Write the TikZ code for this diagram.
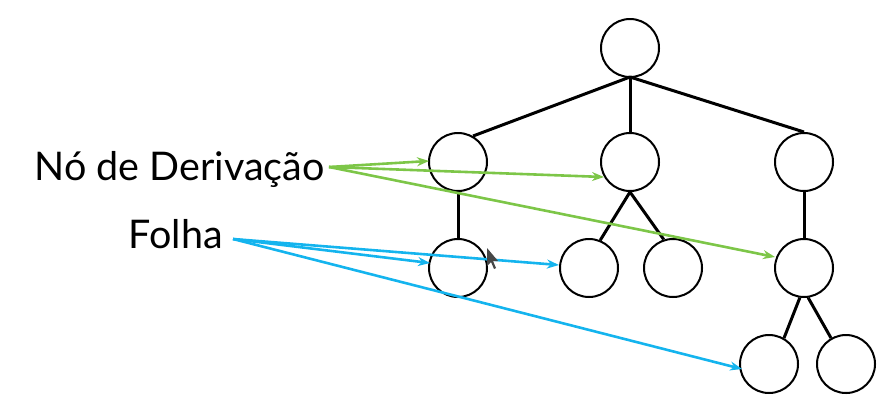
\documentclass[tikz,border=0pt]{standalone}
\usepackage{fontspec}
\setmainfont{Lato}
\usetikzlibrary{arrows.meta}
\definecolor{lgreen}{RGB}{125,198,72}
\definecolor{lblue}{RGB}{20,180,238}
\definecolor{cursor}{RGB}{70,70,70}
\tikzset{
  tnode/.style={circle, draw=black, line width=2pt, minimum size=58pt, inner sep=0pt, fill=white},
  tedge/.style={line width=3pt, black},
  garrow/.style={lgreen, line width=2.6pt, -{Stealth[length=12pt,width=9pt]}},
  barrow/.style={lblue, line width=2.6pt, -{Stealth[length=12pt,width=9pt]}},
  lbl/.style={font=\fontsize{39.5}{42}\selectfont, inner sep=0pt, anchor=base east}
}
\begin{document}
\begin{tikzpicture}[x=1pt,y=-1pt]
\useasboundingbox (0,0) rectangle (877,400);
% nodes
\node[tnode] (r) at (630,48) {};
\node[tnode] (a) at (458,162) {};
\node[tnode] (b) at (630,162) {};
\node[tnode] (c) at (804,162) {};
\node[tnode] (a1) at (458,268) {};
\node[tnode] (b1) at (589,268) {};
\node[tnode] (b2) at (673,268) {};
\node[tnode] (c1) at (804,268) {};
\node[tnode] (c11) at (769,364) {};
\node[tnode] (c12) at (846,364) {};
% tree edges
\coordinate (rb) at (630,77);
\draw[tedge] (rb) -- (a.60);
\draw[tedge] (rb) -- (b.north);
\draw[tedge] (rb) -- (c.north);
\draw[tedge] (a.south) -- (a1.north);
\draw[tedge] (b.south) -- (b1.68);
\draw[tedge] (b.south) -- (b2.108);
\draw[tedge] (c.south) -- (c1.north);
\draw[tedge] (c1.262) -- (c11.60);
\draw[tedge] (c1.278) -- (c12.120);
% labels
\node[lbl] (nd) at (325,180) {Nó de Derivação};
\node[lbl] (fo) at (223,248) {Folha};
\coordinate (ndo) at (329,167);
\coordinate (foo) at (233,239);
% arrows
\coordinate (ta) at (429,161);
\coordinate (tb) at (604,177);
\coordinate (tc) at (775,257);
\draw[garrow] (ndo) -- (ta);
\draw[garrow] (ndo) -- (tb);
\draw[garrow] (ndo) -- (tc);
\coordinate (ta1) at (430,263);
\coordinate (tb1) at (559,265);
\coordinate (tc11) at (742,369);
\draw[barrow] (foo) -- (ta1);
\draw[barrow] (foo) -- (tb1);
\draw[barrow] (foo) -- (tc11);
% mouse cursor
\fill[cursor] (487,248) -- (487,266) -- (491,262) -- (494,269) -- (496,268) -- (493,261) -- (498,261) -- cycle;
\end{tikzpicture}
\end{document}
